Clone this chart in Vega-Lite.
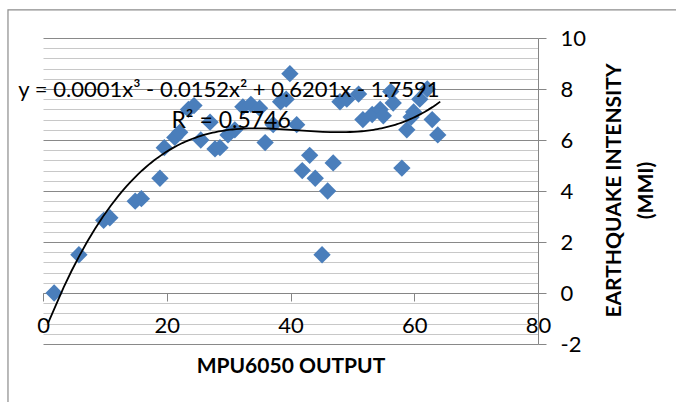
{
  "$schema": "https://vega.github.io/schema/vega-lite/v6.json",
  "width": 495,
  "height": 306,
  "autosize": {"type": "none"},
  "padding": {"left": 43, "top": 38, "right": 138, "bottom": 58},
  "background": "white",
  "config": {
    "view": {"stroke": null},
    "font": "Lato"
  },
  "data": {
    "values": [
      {"x": 1.8, "y": 0.0}, {"x": 5.8, "y": 1.5}, {"x": 9.8, "y": 2.85}, {"x": 10.8, "y": 2.95},
      {"x": 14.9, "y": 3.6}, {"x": 15.9, "y": 3.7}, {"x": 18.9, "y": 4.5}, {"x": 19.6, "y": 5.7},
      {"x": 21.3, "y": 6.1}, {"x": 22.1, "y": 6.3}, {"x": 23.5, "y": 7.2}, {"x": 24.4, "y": 7.35},
      {"x": 25.5, "y": 6.0}, {"x": 27.0, "y": 6.7}, {"x": 27.8, "y": 5.65}, {"x": 28.6, "y": 5.7},
      {"x": 29.9, "y": 6.2}, {"x": 31.0, "y": 6.4}, {"x": 32.3, "y": 7.3}, {"x": 33.6, "y": 7.4},
      {"x": 35.0, "y": 7.25}, {"x": 35.9, "y": 5.9}, {"x": 37.2, "y": 6.6}, {"x": 38.4, "y": 7.5},
      {"x": 39.3, "y": 7.6}, {"x": 39.9, "y": 8.6}, {"x": 41.0, "y": 6.6}, {"x": 41.9, "y": 4.8},
      {"x": 43.1, "y": 5.4}, {"x": 44.0, "y": 4.5}, {"x": 45.1, "y": 1.5}, {"x": 46.0, "y": 4.0},
      {"x": 46.9, "y": 5.1}, {"x": 48.0, "y": 7.5}, {"x": 49.1, "y": 7.6}, {"x": 51.0, "y": 7.8},
      {"x": 51.7, "y": 6.8}, {"x": 53.2, "y": 7.0}, {"x": 54.5, "y": 7.2}, {"x": 55.0, "y": 6.95},
      {"x": 56.6, "y": 7.45}, {"x": 56.2, "y": 7.9}, {"x": 58.0, "y": 4.9}, {"x": 58.8, "y": 6.4},
      {"x": 59.5, "y": 6.9}, {"x": 59.9, "y": 7.1}, {"x": 60.9, "y": 7.6}, {"x": 62.1, "y": 8.0},
      {"x": 62.9, "y": 6.8}, {"x": 63.8, "y": 6.2}
    ]
  },
  "layer": [
    {
      "mark": {"type": "point", "shape": "diamond", "filled": true, "size": 300, "color": "#4a7ebb", "opacity": 1},
      "encoding": {
        "x": {
          "field": "x", "type": "quantitative",
          "scale": {"domain": [0, 80], "nice": false, "zero": false},
          "axis": {
            "orient": "bottom",
            "offset": -51,
            "values": [0, 20, 40, 60, 80],
            "tickCount": 10,
            "grid": false,
            "domainColor": "#868686",
            "tickColor": "#868686",
            "tickSize": 8,
            "labelFlush": false,
            "labelOverlap": false,
            "labelFont": "Lato",
            "labelFontSize": 22,
            "labelColor": "#000000",
            "labelPadding": 14,
            "title": "MPU6050 OUTPUT",
            "titleFont": "Lato",
            "titleFontSize": 21,
            "titleFontWeight": "bold",
            "titleColor": "#000000",
            "titleBaseline": "alphabetic",
            "titleX": 247.5,
            "titleY": 79
          }
        },
        "y": {
          "field": "y", "type": "quantitative",
          "scale": {"domain": [-2, 10], "nice": false, "zero": false},
          "axis": {
            "orient": "right",
            "values": [-2, -1.6, -1.2, -0.8, -0.4, 0, 0.4, 0.8, 1.2, 1.6, 2, 2.4, 2.8, 3.2, 3.6, 4, 4.4, 4.8, 5.2, 5.6, 6, 6.4, 6.8, 7.2, 7.6, 8, 8.4, 8.8, 9.2, 9.6, 10],
            "tickCount": 40,
            "grid": true,
            "gridColor": {"condition": {"test": "abs(datum.value - round(datum.value / 2) * 2) < 0.01", "value": "#898989"}, "value": "#c8c8c8"},
            "gridWidth": 1.2,
            "domainColor": "#868686",
            "tickColor": "#868686",
            "tickOpacity": {"condition": {"test": "abs(datum.value - round(datum.value / 2) * 2) < 0.01", "value": 1}, "value": 0},
            "tickSize": 8,
            "labelExpr": "abs(datum.value - round(datum.value / 2) * 2) < 0.01 ? '' + round(datum.value) : ''",
            "labelOverlap": false,
            "labelFlush": false,
            "labelFont": "Lato",
            "labelFontSize": 22,
            "labelColor": "#000000",
            "labelPadding": 14,
            "labelBaseline": "middle",
            "title": ["EARTHQUAKE INTENSITY", "(MMI)"],
            "titleFont": "Lato",
            "titleFontSize": 21,
            "titleFontWeight": "bold",
            "titleColor": "#000000",
            "titleAngle": 270,
            "titleAlign": "center",
            "titleBaseline": "middle",
            "titleLineHeight": 32,
            "titleX": 76,
            "titleY": 152
          }
        }
      }
    },
    {
      "transform": [{"regression": "y", "on": "x", "method": "poly", "order": 3, "extent": [0.8, 64.2]}],
      "mark": {"type": "line", "color": "#000000", "strokeWidth": 1.8},
      "encoding": {
        "x": {"field": "x", "type": "quantitative"},
        "y": {"field": "y", "type": "quantitative"}
      }
    },
    {
      "transform": [{"aggregate": [{"op": "count", "as": "n"}]}],
      "mark": {"type": "text", "text": "y = 0.0001x³ - 0.0152x² + 0.6201x - 1.7591", "font": "Lato", "fontSize": 22, "color": "#000000", "align": "center", "baseline": "middle"},
      "encoding": {"x": {"datum": 30.06, "type": "quantitative"}, "y": {"datum": 7.96, "type": "quantitative"}}
    },
    {
      "transform": [{"aggregate": [{"op": "count", "as": "n"}]}],
      "mark": {"type": "text", "text": "R² = 0.5746", "font": "Lato", "fontSize": 23, "color": "#000000", "align": "center", "baseline": "middle"},
      "encoding": {"x": {"datum": 30.4, "type": "quantitative"}, "y": {"datum": 6.75, "type": "quantitative"}}
    },
    {
      "transform": [{"aggregate": [{"op": "count", "as": "n"}]}],
      "mark": {"type": "rect", "fill": null, "stroke": "#8c8c8c", "strokeWidth": 1.2},
      "encoding": {
        "x": {"datum": -5.66, "type": "quantitative"},
        "x2": {"datum": 105},
        "y": {"datum": 11.1, "type": "quantitative"},
        "y2": {"datum": -5}
      }
    }
  ]
}
